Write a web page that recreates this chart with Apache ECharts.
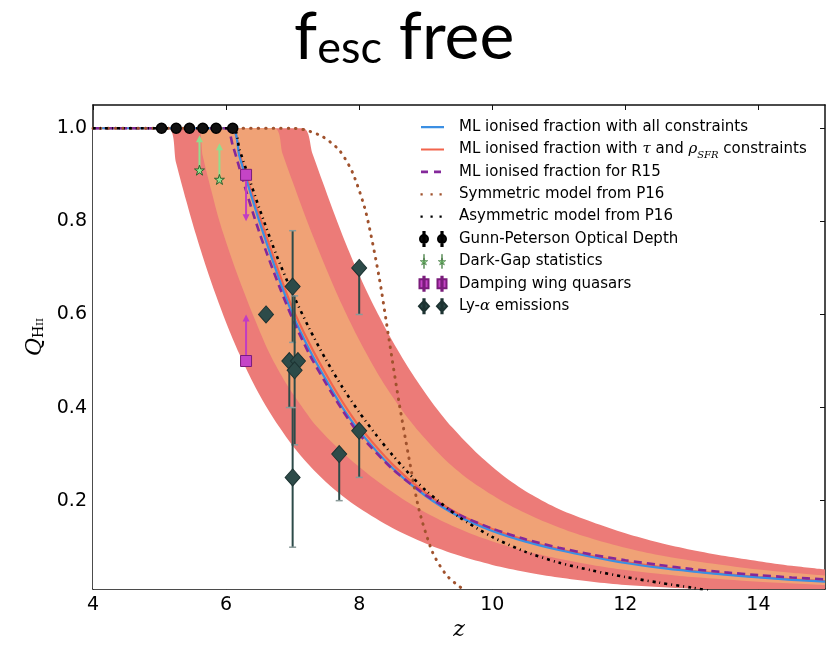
<!DOCTYPE html>
<html><head><meta charset="utf-8">
<script src="https://cdn.jsdelivr.net/npm/echarts@6/dist/echarts.min.js"></script>
<style>html,body{margin:0;padding:0;background:#fff}#c{width:829px;height:646px}</style>
</head><body><div id="c"></div>
<script>
// ---------- data ----------
const xTicks = [4, 6, 8, 10, 12, 14];
const yTicks = [0.2, 0.4, 0.6, 0.8, 1.0];

const mlAll = [[4,1],[6.08,1],[6.2,0.94],[6.3,0.892],[6.4,0.845],[6.5,0.8],[6.6,0.757],[6.8,0.675],[7.0,0.6],[7.25,0.525],[7.5,0.46],[7.75,0.4],[8.0,0.35],[8.5,0.27],[9.0,0.21],[9.5,0.166],[10,0.135],[10.5,0.112],[11,0.094],[11.5,0.079],[12,0.066],[12.5,0.056],[13,0.048],[13.5,0.041],[14,0.035],[14.5,0.03],[15,0.026]];
const mlTau = [[4,1],[6.08,1],[6.2,0.945],[6.3,0.9],[6.4,0.855],[6.5,0.812],[6.6,0.77],[6.8,0.688],[7.0,0.613],[7.25,0.538],[7.5,0.472],[7.75,0.412],[8.0,0.36],[8.5,0.278],[9.0,0.216],[9.5,0.171],[10,0.139],[10.5,0.115],[11,0.096],[11.5,0.081],[12,0.068],[12.5,0.058],[13,0.049],[13.5,0.042],[14,0.036],[14.5,0.031],[15,0.027]];
const mlR15 = [[4,1],[6.0,1],[6.1,0.963],[6.2,0.915],[6.3,0.866],[6.4,0.82],[6.5,0.776],[6.6,0.736],[6.8,0.66],[7.0,0.59],[7.25,0.515],[7.5,0.452],[7.75,0.394],[8.0,0.343],[8.5,0.268],[9.0,0.212],[9.5,0.17],[10,0.14],[10.5,0.117],[11,0.099],[11.5,0.084],[12,0.072],[12.5,0.062],[13,0.053],[13.5,0.046],[14,0.04],[14.5,0.035],[15,0.031]];
const p16Sym = [[4,1],[7.0,1],[7.2,0.996],[7.45,0.982],[7.7,0.953],[7.9,0.905],[8.1,0.82],[8.3,0.68],[8.45,0.545],[8.6,0.41],[8.75,0.29],[8.9,0.18],[9.1,0.09],[9.3,0.042],[9.5,0.016],[9.6,0.008]];
const p16Asym = [[4,1],[6.1,1],[6.2,0.955],[6.3,0.912],[6.5,0.828],[6.75,0.73],[7.0,0.645],[7.25,0.57],[7.5,0.503],[7.75,0.443],[8.0,0.39],[8.25,0.342],[8.5,0.298],[8.75,0.258],[9.0,0.222],[9.5,0.165],[10,0.122],[10.5,0.09],[11,0.067],[11.5,0.05],[12,0.036],[12.5,0.024],[13,0.013],[13.3,0.006]];

// confidence band edges
const outerUpper = [[4,1],[7.15,1],[7.3,0.945],[7.45,0.885],[7.6,0.826],[7.8,0.752],[8.0,0.685],[8.25,0.61],[8.5,0.543],[8.8,0.472],[9.1,0.41],[9.4,0.357],[9.8,0.298],[10.2,0.25],[10.6,0.212],[11.0,0.182],[11.5,0.154],[12.0,0.13],[12.5,0.11],[13.0,0.094],[13.5,0.081],[14.0,0.07],[14.5,0.06],[15,0.052]];
const innerUpper = [[4,1],[6.72,1],[6.85,0.945],[7.0,0.885],[7.15,0.826],[7.3,0.77],[7.5,0.7],[7.75,0.618],[8.0,0.545],[8.3,0.468],[8.6,0.403],[8.9,0.348],[9.3,0.287],[9.7,0.24],[10.2,0.195],[10.7,0.16],[11.2,0.132],[11.7,0.11],[12.2,0.092],[12.7,0.078],[13.3,0.065],[14.0,0.052],[14.5,0.045],[15,0.039]];
const innerLower = [[4,1],[5.56,1],[5.65,0.94],[5.78,0.865],[5.9,0.8],[6.06,0.73],[6.25,0.655],[6.43,0.59],[6.65,0.517],[6.9,0.452],[7.1,0.41],[7.36,0.36],[7.8,0.297],[8.29,0.24],[8.75,0.195],[9.22,0.158],[9.7,0.128],[10.15,0.106],[10.6,0.088],[11.08,0.073],[11.5,0.062],[12.0,0.051],[12.5,0.043],[13,0.036],[14,0.026],[15,0.019]];
const outerLower = [[4,1],[5.12,1],[5.25,0.925],[5.4,0.845],[5.55,0.77],[5.7,0.702],[5.85,0.64],[6.0,0.583],[6.2,0.515],[6.4,0.455],[6.6,0.403],[6.8,0.358],[7.0,0.318],[7.25,0.276],[7.5,0.24],[7.75,0.21],[8.0,0.184],[8.5,0.141],[9.0,0.108],[9.5,0.082],[10,0.062],[10.5,0.047],[11,0.035],[11.5,0.026],[12,0.019],[13,0.011],[14,0.006],[15,0.003]];

// observations
const gunnPeterson = [[5.03,1],[5.25,1],[5.45,1],[5.65,1],[5.85,1],[6.1,1]];
const darkGap = [[5.6,0.91,0.985],[5.9,0.89,0.968]];        // z, Q, arrow end
const dampingWing = [[6.3,0.9,0.8],[6.3,0.5,0.6]];          // z, Q, arrow end
const lyAlpha = [[6.6,0.6,0.6,0.6],[7.0,0.66,0.54,0.78],[6.95,0.5,0.4,0.5],[7.08,0.5,0.5,0.5],[7.03,0.48,0.32,0.64],[7.0,0.25,0.1,0.4],[8.0,0.7,0.6,0.7],[7.7,0.3,0.2,0.3],[8.0,0.35,0.25,0.35]]; // z, Q, low, high

// ---------- chart ----------
const N_ALL = 'ML ionised fraction with all constraints';
const N_TAU = 'ML ionised fraction with tau and rho constraints';
const N_R15 = 'ML ionised fraction for R15';
const N_SYM = 'Symmetric model from P16';
const N_ASY = 'Asymmetric model from P16';
const N_GP = 'Gunn-Peterson Optical Depth';
const N_DG = 'Dark-Gap statistics';
const N_DW = 'Damping wing quasars';
const N_LY = 'Ly-alpha emissions';

const C_OUT = '#ec7b78', C_IN = '#f0a276';
const C_LY = '#2d4b49', C_DW = '#c544c6', C_DG = '#93df8f';
const STAR = 'path://M5,0 L6.2,3.6 L10,3.6 L6.9,5.9 L8.1,9.5 L5,7.3 L1.9,9.5 L3.1,5.9 L0,3.6 L3.8,3.6 Z';
const BOX = ' M0,0 L0.01,0 Z M28,14 L27.99,14 Z';   // anchors the icon box to 28x14
const ICON_SOLID = 'path://M2,6 L25,6 L25,8.2 L2,8.2 Z' + BOX;
const ICON_DASH = 'path://M2,5.8 L9,5.8 L9,8.4 L2,8.4 Z M15,5.8 L22,5.8 L22,8.4 L15,8.4 Z' + BOX;
const ICON_DOT = 'path://M1.5,6 L3.7,6 L3.7,8.2 L1.5,8.2 Z M11.5,6 L13.7,6 L13.7,8.2 L11.5,8.2 Z M20.5,6 L22.7,6 L22.7,8.2 L20.5,8.2 Z' + BOX;

function band(data, color, z) {
  return { type: 'line', name: 'band' + z, data, symbol: 'none', smooth: 0.3,
    lineStyle: { width: 0, color }, areaStyle: { color, opacity: 1, origin: 'start' },
    z: 1, silent: true, itemStyle: { color } };
}
function curve(name, data, color, width, type, z, cap) {
  return { type: 'line', name, data, symbol: 'none', smooth: 0.25, z,
    lineStyle: { color, width, type, cap: cap || 'butt' }, itemStyle: { color } };
}
function errRender(color, capColor) {
  return function (params, api) {
    const x = api.value(0), y = api.value(1), lo = api.value(2), hi = api.value(3);
    if (hi - lo <= 0) return null;
    const pl = api.coord([x, lo]), ph = api.coord([x, hi]);
    const ch = [{ type: 'line', shape: { x1: pl[0], y1: pl[1], x2: ph[0], y2: ph[1] }, style: { stroke: color, lineWidth: 2 } }];
    if (lo < y) ch.push({ type: 'line', shape: { x1: pl[0] - 3.5, y1: pl[1], x2: pl[0] + 3.5, y2: pl[1] }, style: { stroke: capColor, lineWidth: 1.5 } });
    if (hi > y) ch.push({ type: 'line', shape: { x1: ph[0] - 3.5, y1: ph[1], x2: ph[0] + 3.5, y2: ph[1] }, style: { stroke: capColor, lineWidth: 1.5 } });
    return { type: 'group', children: ch };
  };
}
function arrowRender(color) {
  return function (params, api) {
    const x = api.value(0), q = api.value(1), qt = api.value(2);
    const p0 = api.coord([x, q]), p1 = api.coord([x, qt]);
    const d = p1[1] > p0[1] ? 1 : -1;
    return { type: 'group', children: [
      { type: 'line', shape: { x1: p0[0], y1: p0[1], x2: p1[0], y2: p1[1] - d * 5 }, style: { stroke: color, lineWidth: 2 } },
      { type: 'polygon', shape: { points: [[p1[0], p1[1]], [p1[0] - 3.5, p1[1] - d * 7], [p1[0] + 3.5, p1[1] - d * 7]] }, style: { fill: color } }
    ] };
  };
}

const axisLineStyle = { color: '#111', width: 1.5 };
const fontMain = 'DejaVu Sans';

const option = {
  animation: false,
  backgroundColor: '#fff',
  title: {
    text: '{a|f}{b|esc}{a| free}', left: 294, top: 5, padding: 0,
    textStyle: { rich: {
      a: { fontFamily: 'Lato', fontWeight: 'normal', fontSize: 66, lineHeight: 66, color: '#000', verticalAlign: 'bottom' },
      b: { fontFamily: 'Lato', fontWeight: 'normal', fontSize: 45, lineHeight: 32, color: '#000', verticalAlign: 'bottom' }
    } }
  },
  grid: { left: 93, right: 4, top: 105, bottom: 54, containLabel: false },
  xAxis: [
    { type: 'value', min: 4, max: 15, position: 'bottom',
      name: 'z', nameLocation: 'middle', nameGap: 28,
      nameTextStyle: { fontFamily: 'DejaVu Serif', fontStyle: 'italic', fontSize: 22, color: '#000' },
      axisLine: { onZero: false, lineStyle: axisLineStyle },
      axisTick: { inside: true, length: 5, customValues: xTicks, lineStyle: { color: '#111' } },
      axisLabel: { customValues: xTicks, fontFamily: fontMain, fontSize: 19, color: '#000', margin: 6 },
      splitLine: { show: false } },
    { type: 'value', min: 4, max: 15, position: 'top',
      axisLine: { onZero: false, lineStyle: axisLineStyle },
      axisTick: { inside: true, length: 5, customValues: xTicks, lineStyle: { color: '#111' } },
      axisLabel: { show: false }, splitLine: { show: false } }
  ],
  yAxis: [
    { type: 'value', min: 0.01, max: 1.05, position: 'left',
      name: '{q|Q}{s|H}{t|II}', nameLocation: 'middle', nameGap: 46, nameRotate: 90,
      nameTextStyle: { padding: [0, 0, 0, 20], rich: {
        q: { fontFamily: 'DejaVu Serif', fontStyle: 'italic', fontSize: 22, color: '#000', lineHeight: 26, verticalAlign: 'bottom' },
        s: { fontFamily: 'DejaVu Serif', fontSize: 14, color: '#000', lineHeight: 16, verticalAlign: 'bottom' },
        t: { fontFamily: 'DejaVu Serif', fontSize: 10, color: '#000', lineHeight: 10, verticalAlign: 'bottom' }
      } },
      axisLine: { onZero: false, lineStyle: axisLineStyle },
      axisTick: { inside: true, length: 5, customValues: yTicks, lineStyle: { color: '#111' } },
      axisLabel: { customValues: yTicks, fontFamily: fontMain, fontSize: 19, color: '#000', margin: 6, formatter: v => v.toFixed(1) },
      splitLine: { show: false } },
    { type: 'value', min: 0.01, max: 1.05, position: 'right',
      axisLine: { onZero: false, lineStyle: axisLineStyle },
      axisTick: { inside: true, length: 5, customValues: yTicks, lineStyle: { color: '#111' } },
      axisLabel: { show: false }, splitLine: { show: false } }
  ],
  legend: {
    orient: 'vertical', left: 418, top: 116, padding: 0,
    itemWidth: 28, itemHeight: 14, itemGap: 0.4,
    textStyle: { fontFamily: fontMain, fontSize: 15, color: '#000', lineHeight: 22, padding: [0, 0, 0, 7],
      rich: {
        it: { fontFamily: 'DejaVu Serif', fontStyle: 'italic', fontSize: 15, lineHeight: 22, color: '#000' },
        sub: { fontFamily: 'DejaVu Serif', fontStyle: 'italic', fontSize: 10, lineHeight: 12, verticalAlign: 'bottom', color: '#000' }
      } },
    formatter: function (n) {
      if (n === N_TAU) return 'ML ionised fraction with {it|τ} and {it|ρ}{sub|SFR} constraints';
      if (n === N_LY) return 'Ly-{it|α} emissions';
      return n;
    },
    data: [
      { name: N_ALL, icon: ICON_SOLID }, { name: N_TAU, icon: ICON_SOLID }, { name: N_R15, icon: ICON_DASH },
      { name: N_SYM, icon: ICON_DOT }, { name: N_ASY, icon: ICON_DOT },
      { name: N_GP, icon: 'path://M1,7 A4,4 0 1 1 9,7 A4,4 0 1 1 1,7 Z M4.4,0 L5.6,0 L5.6,14 L4.4,14 Z M19,7 A4,4 0 1 1 27,7 A4,4 0 1 1 19,7 Z M22.4,0 L23.6,0 L23.6,14 L22.4,14 Z' + BOX },
      { name: N_DG, itemStyle: { borderWidth: 0.5 }, icon: 'path://M5,3.5 L5.9,6.2 L8.8,6.2 L6.5,7.9 L7.4,10.6 L5,9 L2.6,10.6 L3.5,7.9 L1.2,6.2 L4.1,6.2 Z M4.6,0 L5.4,0 L5.4,14 L4.6,14 Z M23,3.5 L23.9,6.2 L26.8,6.2 L24.5,7.9 L25.4,10.6 L23,9 L20.6,10.6 L21.5,7.9 L19.2,6.2 L22.1,6.2 Z M22.6,0 L23.4,0 L23.4,14 L22.6,14 Z' + BOX },
      { name: N_DW, icon: 'path://M0.5,2.5 L9.5,2.5 L9.5,11.5 L0.5,11.5 Z M4.4,0 L5.6,0 L5.6,14 L4.4,14 Z M18.5,2.5 L27.5,2.5 L27.5,11.5 L18.5,11.5 Z M22.4,0 L23.6,0 L23.6,14 L22.4,14 Z' + BOX },
      { name: N_LY, icon: 'path://M0,7 L5,1.5 L10,7 L5,12.5 Z M4.4,0 L5.6,0 L5.6,14 L4.4,14 Z M18,7 L23,1.5 L28,7 L23,12.5 Z M22.4,0 L23.6,0 L23.6,14 L22.4,14 Z' + BOX }
    ]
  },
  series: [
    band(outerUpper, C_OUT, 1),
    band(innerUpper, C_IN, 2),
    band(innerLower, C_OUT, 3),
    band(outerLower, '#ffffff', 4),
    curve(N_TAU, mlTau, '#f2644c', 2.2, 'solid', 3),
    curve(N_ALL, mlAll, '#3b8fe3', 2.2, 'solid', 3),
    curve(N_R15, mlR15, '#84289a', 2.6, [8, 5], 3),
    curve(N_SYM, p16Sym, '#a0522d', 3, [0.5, 7], 3, 'round'),
    curve(N_ASY, p16Asym, '#000000', 2.6, [3, 4, 1, 4], 3),
    { type: 'custom', name: 'lyErr', renderItem: errRender(C_LY, '#8a9a99'), data: lyAlpha, encode: { x: 0, y: 1 }, z: 4, silent: true },
    { type: 'custom', name: 'dgArr', renderItem: arrowRender('#92dd8e'), data: darkGap, encode: { x: 0, y: 1 }, z: 4, silent: true },
    { type: 'custom', name: 'dwArr', renderItem: arrowRender('#c23cc3'), data: dampingWing, encode: { x: 0, y: 1 }, z: 4, silent: true },
    { type: 'scatter', name: N_GP, data: gunnPeterson, symbol: 'circle', symbolSize: 10, z: 5,
      itemStyle: { color: '#111', borderColor: '#000', borderWidth: 1.5, opacity: 1 } },
    { type: 'scatter', name: N_DG, data: darkGap.map(d => [d[0], d[1]]), symbol: STAR, symbolSize: 10, z: 5,
      itemStyle: { color: C_DG, borderColor: '#2f5f2c', borderWidth: 1, opacity: 1 } },
    { type: 'scatter', name: N_DW, data: dampingWing.map(d => [d[0], d[1]]), symbol: 'rect', symbolSize: 11, z: 5,
      itemStyle: { color: C_DW, borderColor: '#7a1c7b', borderWidth: 1, opacity: 1 } },
    { type: 'scatter', name: N_LY, data: lyAlpha.map(d => [d[0], d[1]]), symbol: 'diamond', symbolSize: [15, 17], z: 5,
      itemStyle: { color: C_LY, borderColor: '#1d3332', borderWidth: 1, opacity: 1 } }
  ]
};
const chart = echarts.init(document.getElementById('c'));
chart.setOption(option);
</script></body></html>
